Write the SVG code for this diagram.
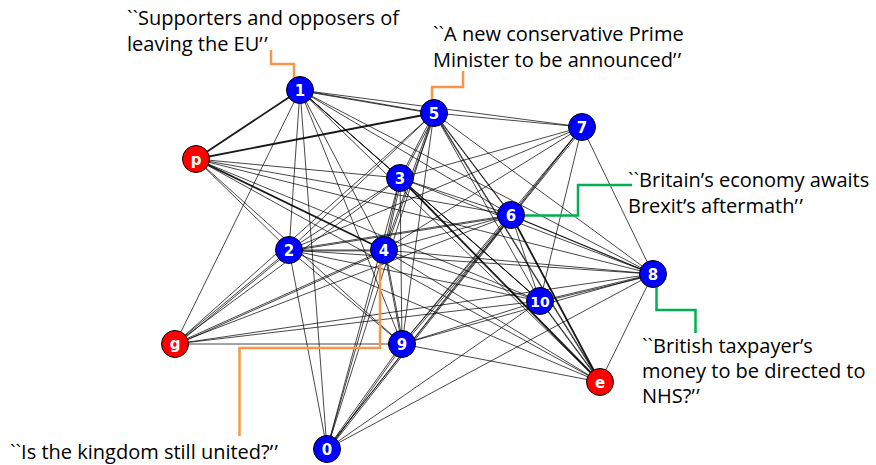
<svg xmlns="http://www.w3.org/2000/svg" xmlns:xlink="http://www.w3.org/1999/xlink" width="876" height="465" viewBox="0 0 876 465">
<style>
.e line{stroke:#000;stroke-width:0.85;stroke-opacity:0.85}
.thick line{stroke:#000;stroke-width:1.8;stroke-opacity:0.9}
.nb{fill:#0000ff;stroke:#000;stroke-width:1}
.nr{fill:#ff0000;stroke:#000;stroke-width:1}
.nl{font-family:"DejaVu Sans",sans-serif;font-size:15px;font-weight:bold;fill:#fff;text-anchor:middle}
.lab{font-family:"Open Sans","Liberation Sans",sans-serif;font-size:20px;fill:#000}
.or{fill:none;stroke:#f79646;stroke-width:2.5}
.gr{fill:none;stroke:#00b050;stroke-width:2.5}
</style>
<g id="connectors">
<g class="e">
<line x1="300" y1="90" x2="582" y2="127"/>
<line x1="300" y1="90" x2="511" y2="215"/>
<line x1="300" y1="90" x2="289" y2="250"/>
<line x1="300" y1="90" x2="384" y2="250"/>
<line x1="300" y1="90" x2="653" y2="274"/>
<line x1="300" y1="90" x2="540" y2="301"/>
<line x1="300" y1="90" x2="175" y2="344"/>
<line x1="300" y1="90" x2="402" y2="344"/>
<line x1="300" y1="90" x2="600" y2="382"/>
<line x1="300" y1="90" x2="327" y2="449"/>
<line x1="434" y1="113" x2="582" y2="127"/>
<line x1="434" y1="113" x2="289" y2="250"/>
<line x1="434" y1="113" x2="653" y2="274"/>
<line x1="434" y1="113" x2="540" y2="301"/>
<line x1="434" y1="113" x2="175" y2="344"/>
<line x1="434" y1="113" x2="402" y2="344"/>
<line x1="434" y1="113" x2="327" y2="449"/>
<line x1="582" y1="127" x2="400" y2="178"/>
<line x1="582" y1="127" x2="289" y2="250"/>
<line x1="582" y1="127" x2="384" y2="250"/>
<line x1="582" y1="127" x2="653" y2="274"/>
<line x1="582" y1="127" x2="540" y2="301"/>
<line x1="582" y1="127" x2="402" y2="344"/>
<line x1="582" y1="127" x2="327" y2="449"/>
<line x1="196" y1="159" x2="400" y2="178"/>
<line x1="196" y1="159" x2="511" y2="215"/>
<line x1="196" y1="159" x2="289" y2="250"/>
<line x1="196" y1="159" x2="653" y2="274"/>
<line x1="196" y1="159" x2="540" y2="301"/>
<line x1="196" y1="159" x2="402" y2="344"/>
<line x1="196" y1="159" x2="600" y2="382"/>
<line x1="400" y1="178" x2="511" y2="215"/>
<line x1="400" y1="178" x2="289" y2="250"/>
<line x1="400" y1="178" x2="653" y2="274"/>
<line x1="400" y1="178" x2="175" y2="344"/>
<line x1="400" y1="178" x2="402" y2="344"/>
<line x1="400" y1="178" x2="327" y2="449"/>
<line x1="511" y1="215" x2="384" y2="250"/>
<line x1="511" y1="215" x2="540" y2="301"/>
<line x1="511" y1="215" x2="175" y2="344"/>
<line x1="289" y1="250" x2="653" y2="274"/>
<line x1="289" y1="250" x2="540" y2="301"/>
<line x1="289" y1="250" x2="402" y2="344"/>
<line x1="289" y1="250" x2="600" y2="382"/>
<line x1="289" y1="250" x2="327" y2="449"/>
<line x1="384" y1="250" x2="653" y2="274"/>
<line x1="384" y1="250" x2="540" y2="301"/>
<line x1="384" y1="250" x2="600" y2="382"/>
<line x1="384" y1="250" x2="327" y2="449"/>
<line x1="653" y1="274" x2="175" y2="344"/>
<line x1="653" y1="274" x2="402" y2="344"/>
<line x1="653" y1="274" x2="600" y2="382"/>
<line x1="653" y1="274" x2="327" y2="449"/>
<line x1="540" y1="301" x2="175" y2="344"/>
<line x1="540" y1="301" x2="402" y2="344"/>
<line x1="540" y1="301" x2="327" y2="449"/>
<line x1="175" y1="344" x2="402" y2="344"/>
<line x1="402" y1="344" x2="600" y2="382"/>
<g id="dbl">
<line x1="300" y1="90" x2="434" y2="113"/>
<line x1="300" y1="90" x2="400" y2="178"/>
<line x1="434" y1="113" x2="400" y2="178"/>
<line x1="434" y1="113" x2="511" y2="215"/>
<line x1="434" y1="113" x2="384" y2="250"/>
<line x1="434" y1="113" x2="600" y2="382"/>
<line x1="582" y1="127" x2="511" y2="215"/>
<line x1="400" y1="178" x2="384" y2="250"/>
<line x1="400" y1="178" x2="540" y2="301"/>
<line x1="511" y1="215" x2="289" y2="250"/>
<line x1="511" y1="215" x2="653" y2="274"/>
<line x1="511" y1="215" x2="402" y2="344"/>
<line x1="511" y1="215" x2="327" y2="449"/>
<line x1="289" y1="250" x2="384" y2="250"/>
<line x1="289" y1="250" x2="175" y2="344"/>
<line x1="384" y1="250" x2="175" y2="344"/>
<line x1="384" y1="250" x2="402" y2="344"/>
<line x1="653" y1="274" x2="540" y2="301"/>
<line x1="540" y1="301" x2="600" y2="382"/>
<line x1="402" y1="344" x2="327" y2="449"/>
</g>
<use xlink:href="#dbl" href="#dbl" transform="translate(1.3,0.9)"/>
</g>
<g class="thick">
<line x1="300" y1="90" x2="196" y2="159"/>
<line x1="434" y1="113" x2="196" y2="159"/>
<line x1="196" y1="159" x2="384" y2="250"/>
<line x1="511" y1="215" x2="600" y2="382"/>
<line x1="400" y1="178" x2="600" y2="382"/>
</g>
<path class="or" d="M271,50 V64 H294 V78"/>
<path class="or" d="M463,71 V87 H432 V100"/>
<path class="gr" d="M525,215.5 H578 V185 H632"/>
<path class="gr" d="M656.5,287 V310 H695.5 V333"/>
<path class="or" d="M380,262 V348 H239.5 V436"/>
</g>
<g id="node-1"><circle class="nb" cx="300" cy="90" r="13.5"/><text class="nl" x="300" y="95.5">1</text></g>
<g id="node-5"><circle class="nb" cx="434" cy="113" r="13.5"/><text class="nl" x="434" y="118.5">5</text></g>
<g id="node-7"><circle class="nb" cx="582" cy="127" r="13.5"/><text class="nl" x="582" y="132.5">7</text></g>
<g id="node-p"><circle class="nr" cx="196" cy="159" r="13.5"/><text class="nl" x="196" y="164.5">p</text></g>
<g id="node-3"><circle class="nb" cx="400" cy="178" r="13.5"/><text class="nl" x="400" y="183.5">3</text></g>
<g id="node-6"><circle class="nb" cx="511" cy="215" r="13.5"/><text class="nl" x="511" y="220.5">6</text></g>
<g id="node-2"><circle class="nb" cx="289" cy="250" r="13.5"/><text class="nl" x="289" y="255.5">2</text></g>
<g id="node-4"><circle class="nb" cx="384" cy="250" r="13.5"/><text class="nl" x="384" y="255.5">4</text></g>
<g id="node-8"><circle class="nb" cx="653" cy="274" r="13.5"/><text class="nl" x="653" y="279.5">8</text></g>
<g id="node-10"><circle class="nb" cx="540" cy="301" r="13.5"/><text class="nl" x="540" y="306.5" style="font-size:14px">10</text></g>
<g id="node-g"><circle class="nr" cx="175" cy="344" r="13.5"/><text class="nl" x="175" y="348.5">g</text></g>
<g id="node-9"><circle class="nb" cx="402" cy="344" r="13.5"/><text class="nl" x="402" y="349.5">9</text></g>
<g id="node-e"><circle class="nr" cx="600" cy="382" r="13.5"/><text class="nl" x="600" y="387.5">e</text></g>
<g id="node-0"><circle class="nb" cx="327" cy="449" r="13.5"/><text class="nl" x="327" y="454.5">0</text></g>
<g id="labels">
<text class="lab" x="127" y="25">``Supporters and opposers of</text>
<text class="lab" x="127" y="51">leaving the EU’<tspan dx="1.5">’</tspan></text>
<text class="lab" x="433" y="41">``A new conservative Prime</text>
<text class="lab" x="433" y="67">Minister to be announced’<tspan dx="1.5">’</tspan></text>
<text class="lab" x="628" y="187">``Britain’s economy awaits</text>
<text class="lab" x="628" y="213">Brexit’s aftermath’<tspan dx="1.5">’</tspan></text>
<text class="lab" x="642" y="353">``British taxpayer’s</text>
<text class="lab" x="642" y="378">money to be directed to</text>
<text class="lab" x="642" y="403">NHS?’<tspan dx="1.5">’</tspan></text>
<text class="lab" x="10" y="459">``Is the kingdom still united?’<tspan dx="1.5">’</tspan></text>
</g>
</svg>
